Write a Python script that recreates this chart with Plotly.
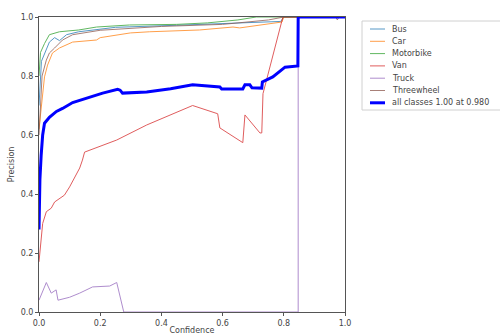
import plotly.graph_objects as go

# ---- data (confidence, precision) per class ----
bus_x = [0, 0.008, 0.034, 0.051, 0.067, 0.09, 0.13, 0.25, 0.45, 0.65, 0.79, 0.80, 1.0]
bus_y = [0.70, 0.85, 0.915, 0.93, 0.92, 0.94, 0.95, 0.965, 0.972, 0.98, 0.985, 1.0, 1.0]

car_x = [0, 0.018, 0.028, 0.044, 0.067, 0.11, 0.188, 0.2, 0.2985, 0.362, 0.525, 0.634, 0.656, 0.794, 0.80, 1.0]
car_y = [0.62, 0.797, 0.837, 0.878, 0.895, 0.915, 0.922, 0.93, 0.946, 0.95, 0.956, 0.966, 0.963, 0.983, 1.0, 1.0]

moto_x = [0, 0.005, 0.018, 0.034, 0.067, 0.13, 0.188, 0.296, 0.45, 0.55, 0.65, 0.71, 1.0]
moto_y = [0.80, 0.88, 0.91, 0.94, 0.95, 0.956, 0.966, 0.973, 0.975, 0.98, 0.99, 1.0, 1.0]

van_x = [0, 0.012, 0.024, 0.04, 0.051, 0.067, 0.083, 0.1, 0.116, 0.133, 0.142, 0.149, 0.254, 0.352,
         0.502, 0.584, 0.591, 0.666, 0.673, 0.722, 0.728, 0.732, 0.797, 1.0]
van_y = [0.17, 0.30, 0.34, 0.352, 0.373, 0.386, 0.396, 0.424, 0.454, 0.488, 0.515, 0.542, 0.583, 0.634,
         0.70, 0.672, 0.624, 0.574, 0.668, 0.607, 0.607, 0.74, 1.0, 1.0]

truck_x = [0, 0.024, 0.04, 0.056, 0.062, 0.1, 0.133, 0.175, 0.231, 0.254, 0.277, 0.847, 0.847, 1.0]
truck_y = [0.04, 0.10, 0.064, 0.075, 0.04, 0.05, 0.064, 0.085, 0.088, 0.10, 0.0, 0.0, 1.0, 1.0]

three_x = [0, 0.01, 0.024, 0.034, 0.051, 0.077, 0.11, 0.2, 0.4, 0.6, 0.75, 0.80, 0.97, 0.975, 0.98, 1.0]
three_y = [0.60, 0.80, 0.854, 0.878, 0.895, 0.922, 0.94, 0.955, 0.968, 0.975, 0.99, 1.0, 1.0, 0.99, 1.0, 1.0]

all_x = [0, 0.003, 0.007, 0.012, 0.018, 0.034, 0.057, 0.077, 0.11, 0.155, 0.208, 0.257, 0.265, 0.273,
         0.352, 0.43, 0.502, 0.591, 0.597, 0.666, 0.673, 0.689, 0.696, 0.728, 0.73, 0.764, 0.804, 0.846, 0.847, 1.0]
all_y = [0.28, 0.45, 0.53, 0.60, 0.64, 0.66, 0.68, 0.69, 0.71, 0.725, 0.742, 0.755, 0.752, 0.742,
         0.746, 0.757, 0.77, 0.763, 0.756, 0.756, 0.77, 0.77, 0.76, 0.759, 0.78, 0.797, 0.83, 0.834, 1.0, 1.0]

names = ["Bus", "Car", "Motorbike", "Van", "Truck", "Threewheel", "all classes 1.00 at 0.980"]
xs = [bus_x, car_x, moto_x, van_x, truck_x, three_x, all_x]
ys = [bus_y, car_y, moto_y, van_y, truck_y, three_y, all_y]
colors = ["#1f77b4", "#ff7f0e", "#2ca02c", "#d62728", "#9467bd", "#8c564b", "#0000ff"]
widths = [1, 1, 1, 1, 1, 1, 3]
ticks = [0.0, 0.2, 0.4, 0.6, 0.8, 1.0]
tick_text = ["0.0", "0.2", "0.4", "0.6", "0.8", "1.0"]

W, H = 500, 335
L, R, T, B = 39, 155, 17, 23
pw, ph = W - L - R, H - T - B

fig = go.Figure()
for n, x, y, c, w in zip(names, xs, ys, colors, widths):
    fig.add_trace(go.Scatter(x=x, y=y, mode="lines", name=n, showlegend=False,
                             line=dict(color=c, width=w), opacity=0.75 if w == 1 else 1))

# manual legend (matplotlib-like compact box)
def px2paper(px, py):
    return (px - L) / pw, (H - B - py) / ph

shapes = []
annotations = []
x0, y0 = px2paper(362, 21)
x1, y1 = px2paper(503, 110)
shapes.append(dict(type="rect", xref="paper", yref="paper", x0=x0, y0=y0, x1=x1, y1=y1,
                   line=dict(color="#d0d0d0", width=1), fillcolor="white", layer="above"))
for i, (n, c, w) in enumerate(zip(names, colors, widths)):
    py = 29 + i * 12.3
    lx0, ly = px2paper(370, py)
    lx1, _ = px2paper(385, py)
    tx, _ = px2paper(390, py)
    shapes.append(dict(type="line", xref="paper", yref="paper", x0=lx0, x1=lx1, y0=ly, y1=ly,
                       line=dict(color=c, width=w), opacity=0.75 if w == 1 else 1, layer="above"))
    annotations.append(dict(xref="paper", yref="paper", x=tx, y=ly, text=n, showarrow=False,
                            xanchor="left", yanchor="middle",
                            font=dict(size=8, color="#444444", family="DejaVu Sans")))

axis_common = dict(range=[0, 1], tickvals=ticks, ticktext=tick_text, showgrid=False,
                   zeroline=False, showline=True, linecolor="#555555", linewidth=1,
                   mirror=True, ticks="outside", ticklen=3, tickcolor="#555555", automargin=False,
                   tickfont=dict(size=8, color="#444444", family="DejaVu Sans"))

fig.update_layout(
    width=W, height=H,
    margin=dict(l=L, r=R, t=T, b=B),
    paper_bgcolor="white", plot_bgcolor="white",
    font=dict(family="DejaVu Sans", size=8, color="#444444"),
    xaxis=dict(**axis_common, title=dict(text="Confidence", standoff=2,
                                         font=dict(size=8, color="#444444"))),
    yaxis=dict(**axis_common, title=dict(text="Precision", standoff=4,
                                         font=dict(size=8, color="#444444"))),
    shapes=shapes, annotations=annotations,
    showlegend=False,
)

fig.write_html("out.html")
